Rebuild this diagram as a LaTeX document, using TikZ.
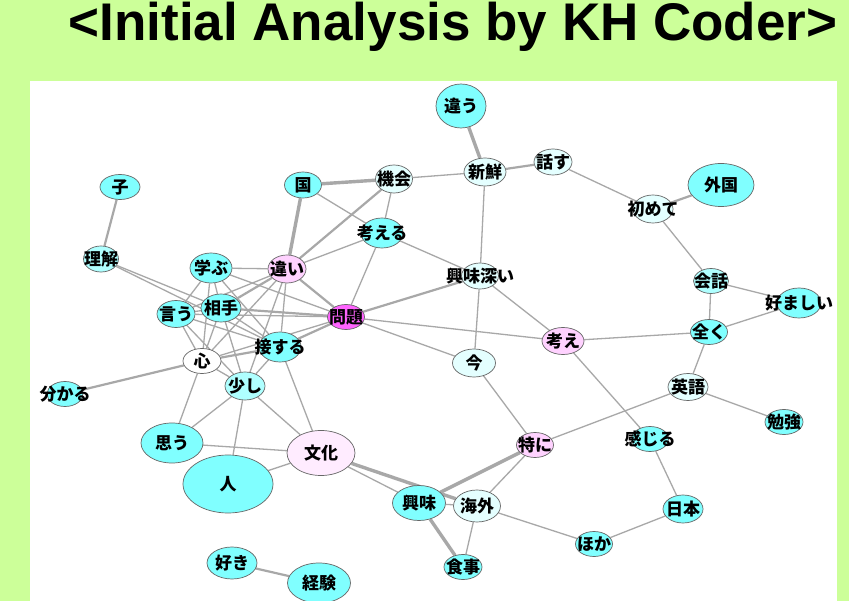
\documentclass[tikz,border=0pt]{standalone}
\usepackage{fontspec}
\setmainfont{Liberation Sans}
\newfontfamily\jp{Noto Sans CJK JP}
\usetikzlibrary{shapes.geometric, backgrounds}
\definecolor{bggreen}{RGB}{204,255,153}
\definecolor{kcyan}{RGB}{128,255,255}
\definecolor{klcyan}{RGB}{175,255,255}
\definecolor{kpale}{RGB}{228,255,255}
\definecolor{kpink}{RGB}{255,210,255}
\definecolor{klpink}{RGB}{255,236,255}
\definecolor{kmag}{RGB}{255,100,255}
\definecolor{kedge}{RGB}{168,168,168}
\newcommand{\kw}[1]{\makebox[0pt]{#1}}
\tikzset{
  kw/.style={ellipse, draw=black!60, line width=0.7pt, inner sep=0pt, fill=#1,
    font=\jp\bfseries\fontsize{17}{17}\selectfont},
  ed/.style={draw=kedge, line width=1.3pt},
  edm/.style={draw=kedge, line width=2.2pt},
  edt/.style={draw=kedge, line width=3.4pt}
}

\begin{document}
\begin{tikzpicture}[x=1pt, y=-1pt]
\useasboundingbox (0,0) rectangle (849,601);

\node[anchor=base, font=\bfseries\fontsize{53}{53}\selectfont] (title) at (453,41) {<Initial Analysis by KH Coder>};

%%%%%%%%%% top part
\node[kw=kcyan, minimum width=50, minimum height=44] (chigau) at (461,106) {\kw{違う}};
\node[kw=kpale, minimum width=42, minimum height=28] (shinsen) at (485,172) {\kw{新鮮}};
\node[kw=kpale, minimum width=38, minimum height=26] (hanasu) at (553,162) {\kw{話す}};
\node[kw=kpale, minimum width=37, minimum height=28] (kikai) at (394,179) {\kw{機会}};
\node[kw=kcyan, minimum width=37, minimum height=26] (kuni) at (303,185) {\kw{国}};
\node[kw=kcyan, minimum width=42, minimum height=30] (kangaeru) at (382,233) {\kw{考える}};
\node[kw=kcyan, minimum width=40, minimum height=25] (ko) at (120,187) {\kw{子}};
\node[kw=klcyan, minimum width=35, minimum height=26] (rikai) at (101,259) {\kw{理解}};
\node[kw=kcyan, minimum width=42, minimum height=30] (manabu) at (211,268) {\kw{学ぶ}};
\node[kw=kpink, minimum width=38, minimum height=28] (chigai) at (287,269) {\kw{違い}};
\node[kw=kpale, minimum width=37, minimum height=26] (kyomibukai) at (480,276) {\kw{興味深い}};

%%%%%%%%%% right part
\node[kw=kcyan, minimum width=66, minimum height=43] (gaikoku) at (721,185) {\kw{外国}};
\node[kw=kpale, minimum width=40, minimum height=28] (hajimete) at (653,209) {\kw{初めて}};
\node[kw=klcyan, minimum width=35, minimum height=25] (kaiwa) at (711,281) {\kw{会話}};
\node[kw=kcyan, minimum width=44, minimum height=30] (konomashii) at (799,303) {\kw{好ましい}};
\node[kw=kcyan, minimum width=37, minimum height=25] (mattaku) at (709,332) {\kw{全く}};
\node[kw=kpale, minimum width=40, minimum height=27] (eigo) at (688,387) {\kw{英語}};
\node[kw=kcyan, minimum width=38, minimum height=25] (benkyo) at (784,422) {\kw{勉強}};
\node[kw=kcyan, minimum width=37, minimum height=25] (kanjiru) at (650,439) {\kw{感じる}};
\node[kw=kcyan, minimum width=40, minimum height=28] (nihon) at (683,509) {\kw{日本}};
\node[kw=kcyan, minimum width=37, minimum height=25] (hoka) at (594,544) {\kw{ほか}};

%%%%%%%%%% middle part
\node[kw=kcyan, minimum width=38, minimum height=27] (iu) at (176,314) {\kw{言う}};
\node[kw=kcyan, minimum width=40, minimum height=28] (aite) at (221,308) {\kw{相手}};
\node[kw=kmag, minimum width=37, minimum height=25] (mondai) at (346,317) {\kw{問題}};
\node[kw=kcyan, minimum width=42, minimum height=30] (sessuru) at (280,347) {\kw{接する}};
\node[kw=kpink, minimum width=42, minimum height=27] (kangae) at (563,341) {\kw{考え}};
\node[kw=kpale, minimum width=43, minimum height=28] (ima) at (474,363) {\kw{今}};
\node[kw=white, minimum width=38, minimum height=25] (kokoro) at (202,361) {\kw{心}};
\node[kw=klcyan, minimum width=40, minimum height=28] (sukoshi) at (245,386) {\kw{少し}};
\node[kw=kcyan, minimum width=36, minimum height=25] (wakaru) at (65,394) {\kw{分かる}};
\node[kw=kpink, minimum width=37, minimum height=25] (tokuni) at (535,445) {\kw{特に}};

%%%%%%%%%% bottom part
\node[kw=kcyan, minimum width=62, minimum height=40] (omou) at (172,443) {\kw{思う}};
\node[kw=klpink, minimum width=68, minimum height=45] (bunka) at (321,453) {\kw{文化}};
\node[kw=kcyan, minimum width=90, minimum height=58] (hito) at (228,484) {\kw{人}};
\node[kw=kcyan, minimum width=53, minimum height=35] (kyomi) at (419,503) {\kw{興味}};
\node[kw=kpale, minimum width=47, minimum height=32] (kaigai) at (477,506) {\kw{海外}};
\node[kw=kcyan, minimum width=38, minimum height=25] (shokuji) at (463,567) {\kw{食事}};
\node[kw=kcyan, minimum width=50, minimum height=32] (suki) at (232,563) {\kw{好き}};
\node[kw=kcyan, minimum width=63, minimum height=40] (keiken) at (319,583) {\kw{経験}};

\begin{scope}[on background layer]
\fill[bggreen] (0,0) rectangle (849,601);
\fill[white] (30,81) rectangle (837,601);
% heavy links
\foreach \a/\b in {chigau/shinsen, kuni/chigai, kuni/kikai, tokuni/kyomi, kyomi/shokuji, bunka/kaigai}
  \draw[edt] (\a) -- (\b);
\foreach \a/\b in {mondai/kyomibukai, aite/mondai, hajimete/gaikoku, suki/keiken, ko/rikai, kokoro/wakaru,
  shinsen/hanasu, kikai/chigai, chigai/aite, chigai/mondai, sessuru/mondai, kokoro/sessuru}
  \draw[edm] (\a) -- (\b);
% light links
\foreach \a/\b in {shinsen/kikai, shinsen/kyomibukai, hanasu/hajimete, hajimete/kaiwa, kaiwa/konomashii,
  kaiwa/mattaku, mattaku/konomashii, mattaku/kangae, mattaku/eigo, eigo/benkyo, eigo/tokuni,
  kangae/kanjiru, kanjiru/nihon, nihon/hoka, hoka/kaigai, ima/tokuni, tokuni/kaigai, kaigai/shokuji,
  kyomi/kaigai, bunka/kyomi, bunka/hito, bunka/omou, bunka/sukoshi, bunka/sessuru, omou/kokoro,
  omou/sukoshi, hito/sukoshi, kuni/kangaeru, kikai/kangaeru, kangaeru/chigai, kangaeru/kyomibukai,
  kangaeru/mondai, mondai/kangae, mondai/ima, kyomibukai/ima, kyomibukai/kangae, rikai/aite,
  rikai/sessuru, manabu/chigai, manabu/aite, manabu/iu, manabu/kokoro, manabu/sessuru, manabu/mondai,
  chigai/iu, chigai/kokoro, chigai/sessuru, chigai/sukoshi, iu/aite, iu/mondai, iu/kokoro, iu/sessuru,
  iu/sukoshi, aite/kokoro, aite/sessuru, aite/sukoshi, kokoro/mondai, kokoro/sukoshi, sessuru/sukoshi}
  \draw[ed] (\a) -- (\b);
\end{scope}
\end{tikzpicture}
\end{document}
